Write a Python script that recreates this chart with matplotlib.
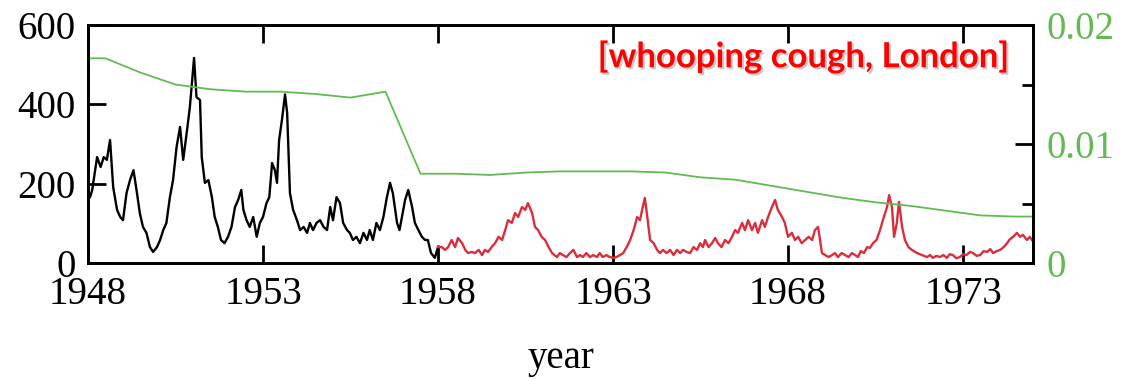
import matplotlib
matplotlib.use("Agg")
import matplotlib.pyplot as plt
import matplotlib.patheffects as pe
from matplotlib.ticker import MultipleLocator

# weekly cases, pre-vaccine era
black_years = [1948.00, 1948.06, 1948.12, 1948.26, 1948.36, 1948.45, 1948.54, 1948.63, 1948.72, 1948.83,
               1948.92, 1949.00, 1949.10, 1949.20, 1949.30, 1949.40, 1949.48, 1949.57, 1949.67, 1949.77,
               1949.86, 1949.97, 1950.06, 1950.15, 1950.24, 1950.34, 1950.43, 1950.53, 1950.63, 1950.72,
               1950.82, 1950.91, 1950.97, 1951.03, 1951.10, 1951.20, 1951.25, 1951.34, 1951.44, 1951.54,
               1951.62, 1951.71, 1951.80, 1951.90, 1952.00, 1952.10, 1952.20, 1952.29, 1952.38, 1952.44,
               1952.53, 1952.62, 1952.72, 1952.82, 1952.91, 1953.00, 1953.10, 1953.18, 1953.26, 1953.34,
               1953.40, 1953.46, 1953.54, 1953.63, 1953.69, 1953.77, 1953.86, 1953.97, 1954.06, 1954.16,
               1954.26, 1954.34, 1954.43, 1954.53, 1954.63, 1954.73, 1954.83, 1954.92, 1955.00, 1955.10,
               1955.20, 1955.29, 1955.40, 1955.48, 1955.57, 1955.67, 1955.77, 1955.87, 1955.97, 1956.05,
               1956.14, 1956.24, 1956.34, 1956.44, 1956.54, 1956.63, 1956.71, 1956.83, 1956.90, 1956.97,
               1957.06, 1957.15, 1957.26, 1957.34, 1957.44, 1957.54, 1957.63, 1957.71, 1957.80, 1957.91,
               1958.00]
black_cases = [170, 166, 184, 267, 242, 267, 260, 310, 191, 134,
               116, 108, 176, 209, 234, 176, 126, 91, 76, 40,
               28, 40, 58, 83, 101, 166, 209, 292, 343, 260,
               328, 393, 454, 517, 418, 411, 267, 202, 209, 166,
               116, 91, 58, 50, 66, 91, 141, 159, 184, 134,
               108, 91, 116, 66, 101, 116, 151, 166, 252, 234,
               202, 310, 360, 425, 378, 176, 134, 108, 83, 91,
               76, 101, 83, 101, 108, 91, 83, 141, 108, 166,
               151, 101, 83, 76, 58, 66, 50, 76, 58, 83,
               58, 101, 83, 116, 166, 202, 176, 101, 83, 116,
               159, 184, 141, 101, 83, 66, 58, 58, 25, 13,
               40]

# weekly cases, vaccine era
red_years = [1958.00, 1958.11, 1958.20, 1958.29, 1958.39, 1958.49, 1958.57, 1958.69, 1958.78, 1958.86,
             1958.96, 1959.06, 1959.16, 1959.26, 1959.34, 1959.43, 1959.53, 1959.63, 1959.73, 1959.83,
             1959.92, 1960.00, 1960.11, 1960.20, 1960.29, 1960.40, 1960.49, 1960.57, 1960.69, 1960.77,
             1960.86, 1960.96, 1961.06, 1961.16, 1961.26, 1961.40, 1961.48, 1961.57, 1961.67, 1961.77,
             1961.87, 1961.97, 1962.06, 1962.14, 1962.24, 1962.34, 1962.44, 1962.54, 1962.62, 1962.71,
             1962.81, 1962.91, 1963.00, 1963.10, 1963.20, 1963.29, 1963.39, 1963.49, 1963.59, 1963.69,
             1963.77, 1963.85, 1963.91, 1963.98, 1964.06, 1964.16, 1964.26, 1964.34, 1964.43, 1964.53,
             1964.63, 1964.73, 1964.83, 1964.92, 1965.00, 1965.10, 1965.20, 1965.30, 1965.40, 1965.49,
             1965.57, 1965.63, 1965.73, 1965.83, 1965.92, 1966.00, 1966.10, 1966.20, 1966.30, 1966.40,
             1966.49, 1966.57, 1966.69, 1966.77, 1966.86, 1966.97, 1967.06, 1967.14, 1967.26, 1967.34,
             1967.43, 1967.54, 1967.63, 1967.71, 1967.83, 1967.91, 1968.00, 1968.11, 1968.20, 1968.29,
             1968.39, 1968.49, 1968.59, 1968.69, 1968.77, 1968.86, 1968.97, 1969.06, 1969.16, 1969.26,
             1969.34, 1969.43, 1969.53, 1969.63, 1969.73, 1969.83, 1969.92, 1970.00, 1970.08, 1970.17,
             1970.26, 1970.34, 1970.43, 1970.53, 1970.63, 1970.71, 1970.83, 1970.89, 1970.97, 1971.03,
             1971.11, 1971.17, 1971.26, 1971.34, 1971.44, 1971.54, 1971.69, 1971.83, 1971.97, 1972.06,
             1972.14, 1972.24, 1972.34, 1972.44, 1972.54, 1972.62, 1972.71, 1972.81, 1972.91, 1973.00,
             1973.10, 1973.20, 1973.29, 1973.39, 1973.49, 1973.59, 1973.69, 1973.78, 1973.86, 1973.96,
             1974.06, 1974.16, 1974.26, 1974.34, 1974.43, 1974.54, 1974.63, 1974.71, 1974.83, 1974.91,
             1974.97]
red_cases = [40, 40, 33, 40, 58, 40, 63, 50, 33, 25,
             28, 25, 33, 20, 33, 28, 40, 50, 66, 58,
             83, 108, 101, 126, 116, 141, 134, 151, 126, 91,
             83, 66, 58, 40, 25, 15, 25, 20, 15, 25,
             33, 15, 20, 15, 25, 15, 20, 15, 25, 15,
             20, 15, 13, 15, 20, 25, 40, 58, 83, 116,
             108, 141, 164, 116, 58, 50, 33, 25, 33, 25,
             33, 20, 33, 25, 33, 28, 25, 40, 33, 50,
             40, 58, 40, 50, 63, 50, 40, 58, 50, 66,
             83, 76, 101, 83, 108, 83, 101, 76, 108, 91,
             116, 141, 159, 134, 116, 101, 66, 76, 58, 66,
             50, 58, 66, 58, 83, 91, 25, 20, 15, 20,
             25, 15, 25, 20, 15, 25, 20, 15, 30, 25,
             40, 38, 50, 58, 83, 108, 141, 171, 141, 66,
             101, 154, 91, 58, 40, 33, 25, 20, 15, 20,
             13, 18, 15, 20, 13, 22, 20, 12, 15, 22,
             20, 28, 25, 18, 20, 30, 28, 35, 25, 30,
             33, 40, 50, 60, 66, 76, 66, 71, 58, 66,
             58]

# per-capita birth rate (right axis)
birth_years = [1948.0, 1948.5, 1949.5, 1950.5, 1951.5, 1952.5, 1953.5, 1954.5, 1955.5, 1956.5,
               1957.5, 1958.5, 1959.5, 1960.5, 1961.5, 1962.5, 1963.5, 1964.5, 1965.5, 1966.5,
               1967.5, 1968.5, 1969.5, 1970.5, 1971.5, 1972.5, 1973.5, 1974.5, 1975.0]
birth_rate = [0.0172, 0.0172, 0.0160, 0.0150, 0.0146, 0.0144, 0.0144, 0.0142, 0.0139, 0.0144,
              0.0075, 0.0075, 0.0074, 0.0076, 0.0077, 0.0077, 0.0077, 0.0076, 0.0072, 0.0070,
              0.0065, 0.0060, 0.0055, 0.0051, 0.0048, 0.0044, 0.0040, 0.0039, 0.0039]

year_ticks = [1948, 1953, 1958, 1963, 1968, 1973]

green = '#62bb50'
serif = ['Liberation Serif', 'DejaVu Serif']

fig = plt.figure(figsize=(11.28, 3.81), dpi=100)
ax = fig.add_axes([88/1128, 1-263/381, (1033-88)/1128, (263-25)/381])
ax2 = ax.twinx()

ax.plot(black_years, black_cases, color='black', lw=1.7)
ax.plot(red_years, red_cases, color='#dc2d3c', lw=1.7)
ax2.plot(birth_years, birth_rate, color=green, lw=1.3)

ax.set_xlim(1948, 1975)
ax.set_ylim(0, 600)
ax2.set_ylim(0, 0.02)
ax.set_xticks(year_ticks)
ax.set_xticklabels([str(y) for y in year_ticks])
ax.set_yticks([0, 200, 400, 600])
ax2.set_yticks([0, 0.01, 0.02])
ax2.set_yticklabels(['0', '0.01', '0.02'])
ax2.yaxis.set_minor_locator(MultipleLocator(0.005))

for a in (ax, ax2):
    for s in a.spines.values():
        s.set_linewidth(2)
ax.tick_params(axis='x', direction='in', top=True, length=13, width=2, pad=9, labelsize=28)
ax.tick_params(axis='y', direction='in', length=13, width=2, pad=9, labelsize=28)
ax2.tick_params(axis='y', which='major', direction='in', length=13, width=2, pad=10,
                labelsize=28, labelcolor=green)
ax2.tick_params(axis='y', which='minor', direction='in', length=8, width=2)
for lab in ax.get_xticklabels() + ax.get_yticklabels() + ax2.get_yticklabels():
    lab.set_family(serif)

fig.text(0.497, 0.035, 'year', ha='center', va='baseline', fontsize=28, family=serif)

ax.text(0.975, 0.865, '[whooping cough, London]', transform=ax.transAxes, ha='right', va='center',
        fontsize=25, fontweight='bold', color='#ff0000', family=['Lato', 'DejaVu Sans'],
        path_effects=[pe.withSimplePatchShadow(offset=(1.5, -1.5), shadow_rgbFace='0.4', alpha=0.35)])

fig.savefig('out.png', dpi=100)
